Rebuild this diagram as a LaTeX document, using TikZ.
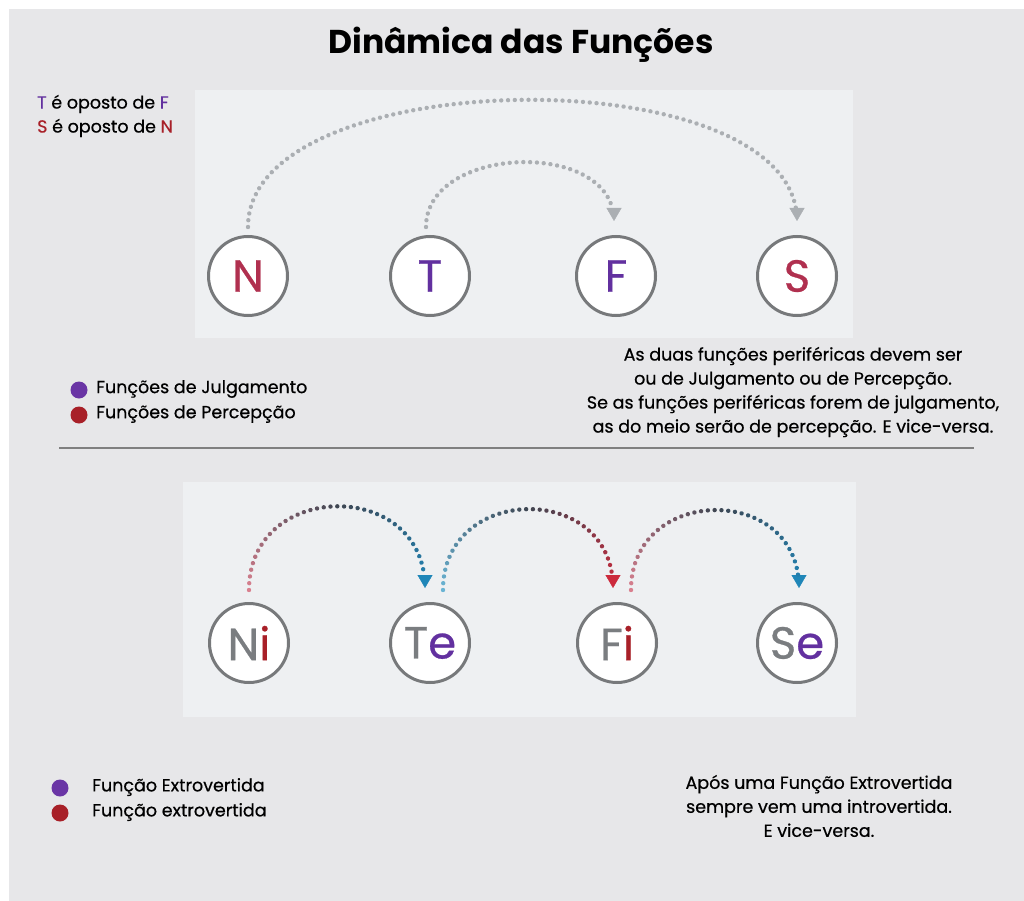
\documentclass[tikz,border=0pt]{standalone}
\usepackage{fontspec}
\setmainfont{Poppins}[UprightFeatures={FakeBold=0.6}]
\usetikzlibrary{arrows.meta}
\usetikzlibrary{decorations.markings}
\usetikzlibrary{positioning}

\definecolor{bggray}{HTML}{E7E7E9}
\definecolor{panelgray}{HTML}{EEF0F2}
\definecolor{ringgray}{HTML}{77797B}
\definecolor{lettergray}{HTML}{7A7D80}
\definecolor{jpurple}{HTML}{62309F}
\definecolor{pcrimson}{HTML}{B0304F}
\definecolor{dotpurple}{HTML}{6A35A5}
\definecolor{dotred}{HTML}{A82028}
\definecolor{arcgray}{HTML}{ABAFB3}
\definecolor{arcdark}{HTML}{3E4652}
\definecolor{arcpink}{HTML}{D9808F}
\definecolor{arcblue}{HTML}{1F86B8}
\definecolor{arcred}{HTML}{CC2A3C}
\definecolor{arcsky}{HTML}{6AB4D4}

\tikzset{
  fn/.style={circle, draw=ringgray, line width=3pt, fill=white, minimum size=79pt,
    inner sep=0pt, font=\fontsize{45}{45}\selectfont},
  note/.style={font=\fontsize{17.5}{24}\selectfont, align=center, inner sep=0pt},
  legdot/.style={circle, fill=#1, minimum size=17pt, inner sep=0pt},
  % dotted arc: start colour, middle colour, end colour, tip colour
  dotarc/.style n args={4}{draw=#4, dash pattern=on 0pt off 2000pt,
    -{Triangle[width=15pt,length=13pt]},
    postaction={decorate}, decoration={markings,
    mark=between positions 0 and -13pt step 6.8pt with {
      \pgfmathtruncatemacro\pct{(\pgfkeysvalueof{/pgf/decoration/mark info/distance from start}/\pgfdecoratedpathlength)*100}
      \ifnum\pct<50
        \pgfmathtruncatemacro\mix{2*\pct}\colorlet{dotc}{#2!\mix!#1}
      \else
        \pgfmathtruncatemacro\mix{2*\pct-100}\colorlet{dotc}{#3!\mix!#2}
      \fi
      \fill[dotc] (0,0) circle (2.2pt);}}},
}

\begin{document}
\begin{tikzpicture}[x=1pt, y=1pt]
  \fill[white] (0,0) rectangle (1024,-901);
  \fill[bggray] (9,-9) rectangle (1024,-901);
  \useasboundingbox (0,0) rectangle (1024,-901);

  % title
  \node[font=\fontsize{33}{33}\selectfont\bfseries] (title) at (521,-45) {Dinâmica das Funções};

  % opposites
  \node[note, anchor=west] (opp1) at (37,-104) {{\color{jpurple}T} é oposto de {\color{jpurple}F}};
  \node[note, anchor=west] (opp2) at (37,-128) {{\color{dotred}S} é oposto de {\color{dotred}N}};

  % top panel
  \fill[panelgray] (195,-90) rectangle (853,-338);
  \node[fn] (n) at (248,-276) {\color{pcrimson}N};
  \node[fn] (t) at (430,-276) {\color{jpurple}T};
  \node[fn] (f) at (616,-276) {\color{jpurple}F};
  \node[fn] (s) at (797,-276) {\color{pcrimson}S};
  \path[dotarc={arcgray}{arcgray}{arcgray}{arcgray}] ([yshift=8pt]n.north)
    to[out=90, in=90, looseness=0.77] ([yshift=14pt]s.north);
  \path[dotarc={arcgray}{arcgray}{arcgray}{arcgray}] ([xshift=-4pt,yshift=8pt]t.north)
    to[out=90, in=90, looseness=1.12] ([xshift=-2pt,yshift=14pt]f.north);

  % legend top
  \node[legdot=dotpurple] (jdot) at (79,-390) {};
  \node[legdot=dotred] (pdot) at (79,-415) {};
  \node[note, anchor=west] (jtxt) at (96,-389) {Funções de Julgamento};
  \node[note, anchor=west] (ptxt) at (96,-414) {Funções de Percepção};

  \node[note] (periph) at (793,-392) {As duas funções periféricas devem ser\\
    ou de Julgamento ou de Percepção.\\
    Se as funções periféricas forem de julgamento,\\
    as do meio serão de percepção. E vice-versa.};

  \draw[gray, line width=1.2pt] (59,-448) -- (974,-448);

  % bottom panel
  \fill[panelgray] (183,-482) rectangle (856,-717);
  \node[fn] (ni) at (249,-643) {{\color{lettergray}N}{\color{dotred}i}};
  \node[fn] (te) at (430,-643) {{\color{lettergray}T}{\color{jpurple}e}};
  \node[fn] (fi) at (617,-643) {{\color{lettergray}F}{\color{dotred}i}};
  \node[fn] (se) at (797,-643) {{\color{lettergray}S}{\color{jpurple}e}};
  \path[dotarc={arcpink}{arcdark}{arcblue}{arcblue}] ([yshift=12pt]ni.north)
    to[out=90, in=90, looseness=1.6] ([xshift=-5pt,yshift=14pt]te.north);
  \path[dotarc={arcsky}{arcdark}{arcred}{arcred}] ([xshift=13pt,yshift=12pt]te.north)
    to[out=90, in=90, looseness=1.6] ([xshift=-4pt,yshift=14pt]fi.north);
  \path[dotarc={arcpink}{arcdark}{arcblue}{arcblue}] ([xshift=14pt,yshift=12pt]fi.north)
    to[out=90, in=90, looseness=1.6] ([xshift=2pt,yshift=14pt]se.north);

  % legend bottom
  \node[legdot=dotpurple] (edot) at (60,-788) {};
  \node[legdot=dotred] (idot) at (60,-813) {};
  \node[note, anchor=west] (etxt) at (92,-787) {Função Extrovertida};
  \node[note, anchor=west] (itxt) at (92,-812) {Função extrovertida};

  \node[note] (after) at (819,-806) {Após uma Função Extrovertida\\
    sempre vem uma introvertida.\\
    E vice-versa.};
\end{tikzpicture}
\end{document}
